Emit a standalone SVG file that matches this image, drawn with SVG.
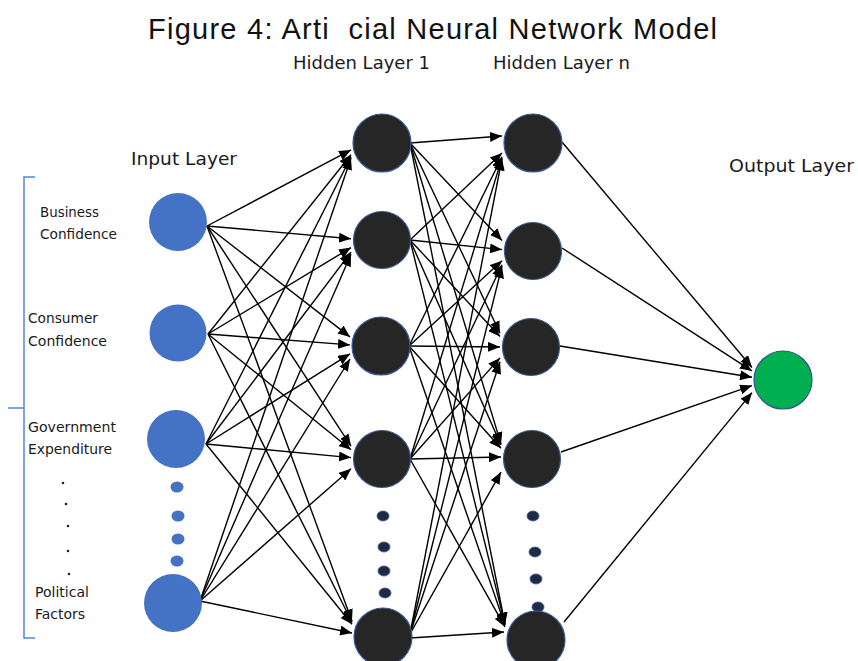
<svg xmlns="http://www.w3.org/2000/svg" width="858" height="661" viewBox="0 0 858 661">
<style>
.t{font-family:"Liberation Sans",Arial,sans-serif;fill:#111}
.l{font-family:"DejaVu Sans","Liberation Sans",sans-serif;fill:#1a1a1a}
.in{fill:#4472C4}
.hd{fill:#262626;stroke:#3A5A94;stroke-width:1.2}
.out{fill:#00B050;stroke:#2F528F;stroke-width:1.2}
.dot{fill:#1F2B44;stroke:#3A5A94;stroke-width:0.8}
.idot{fill:#4472C4}
.c line{stroke:#000;stroke-width:1.4;marker-end:url(#ah)}
</style>
<defs>
<marker id="ah" markerUnits="userSpaceOnUse" markerWidth="12" markerHeight="10" refX="12" refY="5" orient="auto">
<path d="M0,0 L12,5 L0,10 z" fill="#000"/>
</marker>
</defs>
<rect width="858" height="661" fill="#fff"/>
<text class="t" x="148" y="39" font-size="29" textLength="569" lengthAdjust="spacing" style="white-space:pre">Figure 4: Arti  cial Neural Network Model</text>
<text class="l" x="293" y="69" font-size="17" textLength="137" lengthAdjust="spacingAndGlyphs">Hidden Layer 1</text>
<text class="l" x="493" y="69" font-size="17" textLength="137" lengthAdjust="spacingAndGlyphs">Hidden Layer n</text>
<text class="l" x="131" y="165" font-size="18" textLength="106" lengthAdjust="spacingAndGlyphs">Input Layer</text>
<text class="l" x="729" y="172" font-size="18.5" textLength="125" lengthAdjust="spacingAndGlyphs">Output Layer</text>
<g id="bracket" fill="none" stroke="#5585D6" stroke-width="1.5">
<path d="M35,177 H24 V638 H35"/>
<path d="M24,408 H8"/>
</g>
<g id="labels" font-size="13.5">
<text class="l" x="40" y="217" textLength="59" lengthAdjust="spacingAndGlyphs">Business</text>
<text class="l" x="40" y="239" textLength="77" lengthAdjust="spacingAndGlyphs">Confidence</text>
<text class="l" x="28" y="323" textLength="70" lengthAdjust="spacingAndGlyphs">Consumer</text>
<text class="l" x="28" y="346" textLength="79" lengthAdjust="spacingAndGlyphs">Confidence</text>
<text class="l" x="28" y="432" textLength="88" lengthAdjust="spacingAndGlyphs">Government</text>
<text class="l" x="28" y="454" textLength="84" lengthAdjust="spacingAndGlyphs">Expenditure</text>
<text class="l" x="35" y="597" textLength="54" lengthAdjust="spacingAndGlyphs">Political</text>
<text class="l" x="35" y="619" textLength="50" lengthAdjust="spacingAndGlyphs">Factors</text>
<g fill="#222">
<circle cx="63" cy="483" r="1.3"/>
<circle cx="66" cy="504" r="1.3"/>
<circle cx="68" cy="526" r="1.3"/>
<circle cx="68" cy="551" r="1.3"/>
<circle cx="69" cy="574" r="1.3"/>
</g>
</g>
<g id="connectors" class="c">
<line x1="207" y1="226" x2="351" y2="149.9"/>
<line x1="208" y1="334" x2="351" y2="154.8"/>
<line x1="206" y1="444" x2="351" y2="156.8"/>
<line x1="200" y1="601" x2="351" y2="157.9"/>
<line x1="207" y1="226" x2="351" y2="238.7"/>
<line x1="208" y1="334" x2="351" y2="247.6"/>
<line x1="206" y1="444" x2="351" y2="252.1"/>
<line x1="200" y1="601" x2="351" y2="254.3"/>
<line x1="207" y1="226" x2="350" y2="336.9"/>
<line x1="208" y1="334" x2="350" y2="344.9"/>
<line x1="206" y1="444" x2="350" y2="353.8"/>
<line x1="200" y1="601" x2="350" y2="359.0"/>
<line x1="207" y1="226" x2="351" y2="446.2"/>
<line x1="208" y1="334" x2="351" y2="449.7"/>
<line x1="206" y1="444" x2="351" y2="457.6"/>
<line x1="200" y1="601" x2="351" y2="468.8"/>
<line x1="207" y1="226" x2="352" y2="621.3"/>
<line x1="208" y1="334" x2="352" y2="622.2"/>
<line x1="206" y1="444" x2="352" y2="624.2"/>
<line x1="200" y1="601" x2="352" y2="633.0"/>
<line x1="410" y1="143" x2="502" y2="136"/>
<line x1="410" y1="240" x2="502" y2="152.9"/>
<line x1="409" y1="346" x2="502" y2="156.7"/>
<line x1="410" y1="459" x2="502" y2="157.9"/>
<line x1="410" y1="634" x2="502" y2="158.5"/>
<line x1="410" y1="143" x2="502" y2="240.4"/>
<line x1="410" y1="240" x2="502" y2="249.6"/>
<line x1="409" y1="346" x2="502" y2="260.7"/>
<line x1="410" y1="459" x2="502" y2="264.8"/>
<line x1="410" y1="634" x2="502" y2="266.2"/>
<line x1="410" y1="143" x2="500" y2="333.2"/>
<line x1="410" y1="240" x2="500" y2="336.4"/>
<line x1="409" y1="346" x2="500" y2="347"/>
<line x1="410" y1="459" x2="500" y2="357.9"/>
<line x1="410" y1="634" x2="500" y2="361.7"/>
<line x1="410" y1="143" x2="501" y2="444.1"/>
<line x1="410" y1="240" x2="501" y2="445.0"/>
<line x1="409" y1="346" x2="501" y2="448.2"/>
<line x1="410" y1="459" x2="501" y2="457"/>
<line x1="410" y1="634" x2="501" y2="472.1"/>
<line x1="410" y1="143" x2="505" y2="624.5"/>
<line x1="410" y1="240" x2="505" y2="624.7"/>
<line x1="409" y1="346" x2="505" y2="625.3"/>
<line x1="410" y1="459" x2="505" y2="626.9"/>
<line x1="410" y1="638" x2="504" y2="632"/>
<line x1="562" y1="142" x2="752" y2="367.5"/>
<line x1="562" y1="248" x2="752" y2="370.9"/>
<line x1="560" y1="346" x2="752" y2="377.2"/>
<line x1="561" y1="452" x2="752" y2="385.6"/>
<line x1="564" y1="622" x2="752" y2="392.6"/>
</g>
<g id="input-1"><circle class="in" cx="178" cy="222" r="29"/></g>
<g id="input-2"><circle class="in" cx="178" cy="333" r="28.5"/></g>
<g id="input-3"><circle class="in" cx="176" cy="439" r="29"/></g>
<g id="input-dots">
<ellipse class="idot" cx="177" cy="487" rx="6.5" ry="5.5"/>
<ellipse class="idot" cx="178" cy="516" rx="6.5" ry="5.5"/>
<ellipse class="idot" cx="178" cy="539" rx="6.5" ry="5.5"/>
<ellipse class="idot" cx="177" cy="561" rx="6.5" ry="5.5"/>
</g>
<g id="input-4"><circle class="in" cx="173" cy="603" r="29"/></g>
<g id="hidden1-1"><circle class="hd" cx="382" cy="143" r="29"/></g>
<g id="hidden1-2"><circle class="hd" cx="382" cy="240" r="28.5"/></g>
<g id="hidden1-3"><circle class="hd" cx="381" cy="346" r="29"/></g>
<g id="hidden1-4"><circle class="hd" cx="382" cy="459" r="28.5"/></g>
<g id="hidden1-dots">
<ellipse class="dot" cx="383" cy="516" rx="6" ry="5"/>
<ellipse class="dot" cx="384" cy="547" rx="6" ry="5"/>
<ellipse class="dot" cx="384" cy="571" rx="6" ry="5"/>
<ellipse class="dot" cx="385" cy="593" rx="6" ry="5"/>
</g>
<g id="hidden1-5"><circle class="hd" cx="383" cy="637" r="29"/></g>
<g id="hiddenn-1"><circle class="hd" cx="533" cy="143" r="29"/></g>
<g id="hiddenn-2"><circle class="hd" cx="533" cy="251" r="28.5"/></g>
<g id="hiddenn-3"><circle class="hd" cx="531" cy="347" r="28.5"/></g>
<g id="hiddenn-4"><circle class="hd" cx="532" cy="459" r="28.5"/></g>
<g id="hiddenn-dots">
<ellipse class="dot" cx="533" cy="516" rx="6" ry="5"/>
<ellipse class="dot" cx="535" cy="552" rx="6" ry="5"/>
<ellipse class="dot" cx="536" cy="579" rx="6" ry="5"/>
<ellipse class="dot" cx="538" cy="607" rx="6" ry="5"/>
</g>
<g id="hiddenn-5"><circle class="hd" cx="536" cy="640" r="29"/></g>
<g id="output"><circle class="out" cx="783" cy="380" r="29"/></g>
</svg>
